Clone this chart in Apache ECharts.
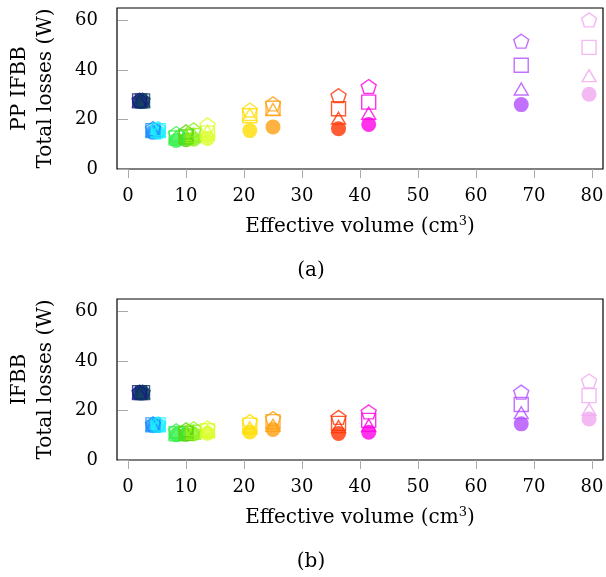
<!DOCTYPE html>
<html>
<head>
<meta charset="utf-8">
<script src="https://cdn.jsdelivr.net/npm/echarts@6/dist/echarts.min.js"></script>
<style>
html,body{margin:0;padding:0;background:#fff;}
#c{width:606px;height:577px;}
</style>
</head>
<body>
<div id="c"></div>
<script>
// ---- data ----
var volumes = [2.0, 2.5, 4.3, 5.2, 8.3, 10.0, 11.3, 13.7, 21.0, 25.0, 36.3, 41.5, 67.8, 79.5];
var designColors = ['#1a1a88', '#0a3d5c', '#1a8cff', '#19f0ff', '#33f04a', '#5ad40a', '#8cf21a', '#d9ff26',
                    '#ffdd00', '#ff9f0f', '#ff3300', '#ff00e6', '#b34dff', '#f0a8f0'];

// Panel (a): PP IFBB
var ppCircle   = [27.3, 27.3, 14.8, 14.8, 11.5, 11.8, 12.0, 12.3, 15.5, 17.0, 16.3, 18.0, 26.0, 30.2];
var ppTriangle = [27.5, 27.5, 15.5, 15.5, 13.0, 13.5, 14.0, 15.3, 22.0, 24.0, 20.5, 22.5, 32.3, 37.7];
var ppSquare   = [27.5, 27.5, 15.5, 15.5, 12.5, 13.0, 13.5, 14.5, 21.5, 24.5, 24.3, 27.0, 41.9, 49.1];
var ppPentagon = [27.8, 27.8, 16.3, 16.3, 14.3, 15.0, 15.8, 17.8, 23.8, 26.3, 29.6, 33.3, 51.6, 60.2];

// Panel (b): IFBB
var ifCircle   = [27.1, 27.1, 13.8, 13.8, 10.2, 10.3, 10.5, 10.8, 11.3, 12.3, 10.7, 11.2, 14.6, 16.6];
var ifTriangle = [27.2, 27.2, 14.2, 14.2, 11.0, 11.2, 11.5, 11.8, 13.0, 14.0, 13.5, 14.0, 19.1, 20.4];
var ifSquare   = [27.2, 27.2, 14.2, 14.2, 10.6, 10.8, 11.2, 11.8, 14.1, 15.5, 14.8, 16.0, 22.4, 26.0];
var ifPentagon = [27.4, 27.4, 14.6, 14.6, 11.8, 12.2, 12.6, 13.0, 15.5, 16.7, 17.2, 19.4, 27.4, 31.9];

var xTicks = [0, 10, 20, 30, 40, 50, 60, 70, 80];
var yTicks = [0, 20, 40, 60];

// ---- chart ----
var FONT = 'DejaVu Serif';
var FS = 20;      // axis names / captions
var FT = 18;      // tick labels
var pentagonPath = 'path://M0,-1 L0.951,-0.309 L0.588,0.809 L-0.588,0.809 L-0.951,-0.309 Z';
var trianglePath = 'path://M0,-1 L0.866,0.5 L-0.866,0.5 Z';

function pts(values, filled) {
  return values.map(function (v, i) {
    var c = designColors[i];
    return {
      value: [volumes[i], v],
      itemStyle: filled ? { color: c, borderWidth: 0 }
                        : { color: 'rgba(0,0,0,0)', borderColor: c, borderWidth: 1.4 }
    };
  });
}

function panelSeries(idx, circ, tri, sq, pent) {
  return [
    { type: 'scatter', xAxisIndex: idx, yAxisIndex: idx, symbol: 'circle', symbolSize: 15, data: pts(circ, true) },
    { type: 'scatter', xAxisIndex: idx, yAxisIndex: idx, symbol: trianglePath, symbolSize: [14, 12], data: pts(tri, false) },
    { type: 'scatter', xAxisIndex: idx, yAxisIndex: idx, symbol: 'rect', symbolSize: 14, data: pts(sq, false) },
    { type: 'scatter', xAxisIndex: idx, yAxisIndex: idx, symbol: pentagonPath, symbolSize: [15, 14], data: pts(pent, false) }
  ];
}

function xAxis(idx) {
  return {
    type: 'value', gridIndex: idx, min: -1.9, max: 81.9,
    name: 'Effective volume (cm{sup|3})', nameLocation: 'middle', nameGap: 46,
    nameTextStyle: { fontFamily: FONT, fontSize: FS, color: '#000',
      rich: { sup: { fontFamily: FONT, fontSize: 13, verticalAlign: 'top', padding: [0, 0, 10, 0], color: '#000' } } },
    axisLine: { show: false },
    splitLine: { show: false },
    axisTick: { show: true, inside: false, length: 9, customValues: xTicks, lineStyle: { color: '#aaaaaa', width: 1 } },
    axisLabel: { customValues: xTicks, fontFamily: FONT, fontSize: FT, color: '#000', margin: 18 }
  };
}

function yAxis(idx, label) {
  return {
    type: 'value', gridIndex: idx, min: 0, max: 65,
    name: label + '\nTotal losses (W)', nameLocation: 'middle', nameGap: 58, nameRotate: 90,
    nameTextStyle: { fontFamily: FONT, fontSize: FS, color: '#000', lineHeight: 26 },
    axisLine: { show: false },
    splitLine: { show: false },
    axisTick: { show: true, inside: false, length: 10, customValues: yTicks, lineStyle: { color: '#aaaaaa', width: 1 } },
    axisLabel: { customValues: yTicks, fontFamily: FONT, fontSize: FT, color: '#000', margin: 19 }
  };
}

var chart = echarts.init(document.getElementById('c'), null, { renderer: 'canvas' });
chart.setOption({
  animation: false,
  backgroundColor: '#fff',
  grid: [
    { left: 117, right: 3, top: 8, height: 161, outerBoundsMode: 'none', containLabel: false,
      show: true, borderColor: '#000', borderWidth: 1.2, backgroundColor: 'transparent' },
    { left: 117, right: 3, top: 299, height: 161, outerBoundsMode: 'none', containLabel: false,
      show: true, borderColor: '#000', borderWidth: 1.2, backgroundColor: 'transparent' }
  ],
  xAxis: [xAxis(0), xAxis(1)],
  yAxis: [yAxis(0, 'PP IFBB'), yAxis(1, 'IFBB')],
  series: panelSeries(0, ppCircle, ppTriangle, ppSquare, ppPentagon)
    .concat(panelSeries(1, ifCircle, ifTriangle, ifSquare, ifPentagon)),
  graphic: [
    { type: 'text', x: 311, y: 271, style: { text: '(a)', fontFamily: FONT, fontSize: FS, fill: '#000', textAlign: 'center', textVerticalAlign: 'middle' } },
    { type: 'text', x: 311, y: 562, style: { text: '(b)', fontFamily: FONT, fontSize: FS, fill: '#000', textAlign: 'center', textVerticalAlign: 'middle' } }
  ]
});
</script>
</body>
</html>
